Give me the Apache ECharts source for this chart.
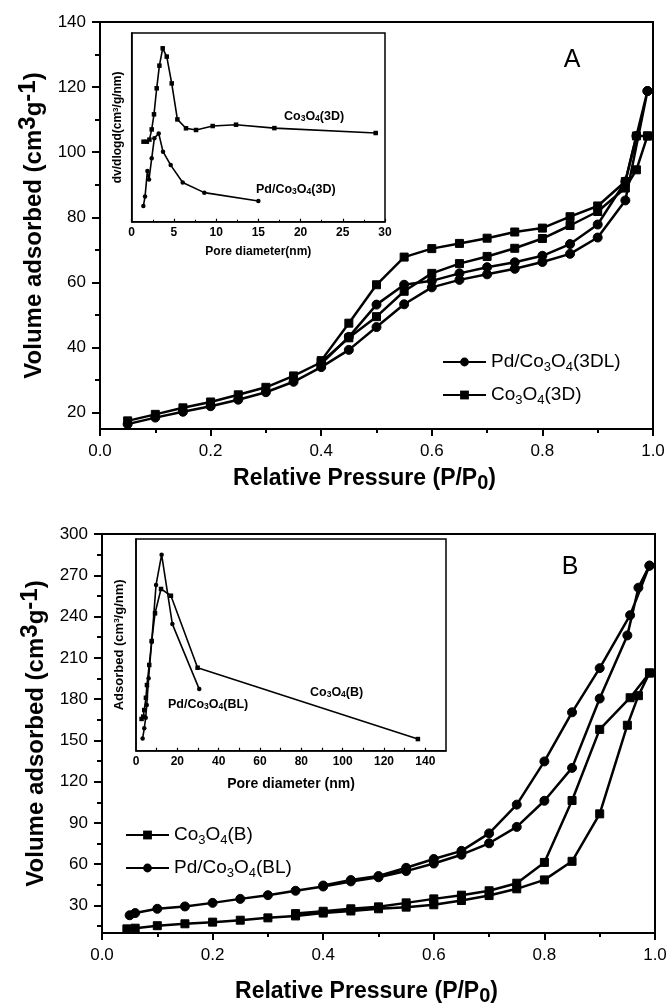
<!DOCTYPE html>
<html><head><meta charset="utf-8">
<script src="https://cdn.jsdelivr.net/npm/echarts@6/dist/echarts.min.js"></script>
<style>html,body{margin:0;padding:0;background:#fff}#c{width:672px;height:1007px}</style>
</head><body><div id="c"></div>
<script>
// ---------- Panel A: isotherms ----------
const pdA_ads_P = [0.05,0.1,0.15,0.2,0.25,0.3,0.35,0.4,0.45,0.5,0.55,0.6,0.65,0.7,0.75,0.8,0.85,0.9,0.95,0.99];
const pdA_ads_V = [16.5,18.5,20.3,22,24,26.3,29.5,34,39.3,46.3,53.3,58.5,60.8,62.5,64.2,66.3,68.8,73.8,85.2,118.8];
const pdA_des_P = [0.99,0.97,0.95,0.9,0.85,0.8,0.75,0.7,0.65,0.6,0.55,0.5,0.45,0.4];
const pdA_des_V = [118.8,105,91,77.8,71.8,68.2,66.2,64.7,62.8,60.5,59.3,53.2,43.3,35];
const coA_ads_P = [0.05,0.1,0.15,0.2,0.25,0.3,0.35,0.4,0.45,0.5,0.55,0.6,0.65,0.7,0.75,0.8,0.85,0.9,0.95,0.97,0.99];
const coA_ads_V = [17.5,19.5,21.5,23.3,25.5,27.8,31.3,35.5,43,49.5,57.3,62.8,65.8,68,70.5,73.5,77.5,81.8,89,94.6,105];
const coA_des_P = [0.99,0.97,0.95,0.9,0.85,0.8,0.75,0.7,0.65,0.6,0.55,0.5,0.45,0.4];
const coA_des_V = [105,105,91,83.5,80.2,76.7,75.5,73.6,72,70.4,67.8,59.3,47.5,36];

// ---------- Panel A inset: pore size distribution ----------
const inA_co_D = [1.4,1.8,2.1,2.37,2.64,2.96,3.28,3.67,4.15,4.74,5.41,6.43,7.62,9.59,12.36,16.9,28.9];
const inA_co_V = [42.4,42.4,43.5,48.9,56.9,70.7,82.7,91.9,87.5,73.3,54.2,49.5,48.6,50.7,51.4,49.6,47.0];
const inA_pd_D = [1.38,1.58,1.86,2.05,2.37,2.68,3.2,3.71,4.62,6.04,8.6,15.0];
const inA_pd_V = [8.3,13.3,26.9,22.4,33.6,44.2,46.8,37.1,30.0,20.8,15.4,11.0];

// ---------- Panel B: isotherms ----------
const pdB_ads_P = [0.05,0.06,0.1,0.15,0.2,0.25,0.3,0.35,0.4,0.45,0.5,0.55,0.6,0.65,0.7,0.75,0.8,0.85,0.9,0.95,0.97,0.99];
const pdB_ads_V = [22.9,24.5,27.6,29.3,31.9,34.8,37.5,40.7,43.8,47.5,50.5,55,60.5,66.9,75.2,87.1,106.1,130,180.4,226.3,261,277];
const pdB_des_P = [0.99,0.955,0.9,0.85,0.8,0.75,0.7,0.65,0.6,0.55,0.5,0.45,0.4];
const pdB_des_V = [277,241,202.5,170.4,134.7,103.3,82.4,69.7,63.8,57.4,51.4,48.5,44.5];
const coB_ads_P = [0.045,0.06,0.1,0.15,0.2,0.25,0.3,0.35,0.4,0.45,0.5,0.55,0.6,0.65,0.7,0.75,0.8,0.85,0.9,0.95,0.97,0.99];
const coB_ads_V = [13,13.5,15.3,16.7,17.9,19.3,21,22.4,24.5,26,27.6,28.8,30.5,33.6,37.2,42.1,48.6,62.1,96.6,161,182.5,199];
const coB_des_P = [0.99,0.955,0.9,0.85,0.8,0.75,0.7,0.65,0.6,0.55,0.5,0.45,0.4,0.35];
const coB_des_V = [199,181,158,106.3,61.3,46.2,40.7,37.5,34.8,31.9,29,27.6,25.8,24.1];

// ---------- Panel B inset ----------
const inB_co_D = [2.7,3.5,4.0,4.8,5.3,6.4,7.6,9.2,12.1,16.9,29.8,136.4];
const inB_co_V = [15.0,16.1,19.2,25.0,31.0,40.5,51.8,64.9,76.4,73.2,39.2,5.5];
const inB_pd_D = [3.2,4.0,4.7,5.2,6.1,7.6,9.7,12.4,17.6,30.6];
const inB_pd_V = [5.8,10.6,15.6,21.6,34.2,51.5,78.3,92.6,59.8,29.1];

// ---------- tick values ----------
const yTicksA = [20,40,60,80,100,120,140];
const yMinorA = [30,50,70,90,110,130];
const yTicksB = [30,60,90,120,150,180,210,240,270,300];
const yMinorB = [15,45,75,105,135,165,195,225,255,285];
const xTicksInB = [0,20,40,60,80,100,120,140];
const xTickMarksInB = [10,20,30,40,50,60,70,80,90,100,110,120,130,140];

const FONT = 'Liberation Sans, Arial, sans-serif';
const pts = (xs, ys) => xs.map((x, i) => [x, ys[i]]);
const K = '#000';

const nameMap = {
  'Pd/Co3O4(3DL)': 'Pd/Co{s|3}O{s|4}(3DL)',
  'Co3O4(3D)': 'Co{s|3}O{s|4}(3D)',
  'Co3O4(B)': 'Co{s|3}O{s|4}(B)',
  'Pd/Co3O4(BL)': 'Pd/Co{s|3}O{s|4}(BL)'
};

function mainX(grid, gap) {
  return {
    type: 'value', gridIndex: grid, min: 0, max: 1, interval: 0.2,
    name: '{a|Relative Pressure (P/P}{b|0}{a|)}', nameLocation: 'middle', nameGap: gap,
    nameTextStyle: { padding: [0, 24, 0, 0], rich: {
      a: { fontFamily: FONT, fontSize: 23, fontWeight: 'bold', color: K, lineHeight: 28 },
      b: { fontFamily: FONT, fontSize: 20, fontWeight: 'bold', color: K, lineHeight: 12, verticalAlign: 'bottom' } } },
    axisLine: { show: true, lineStyle: { color: K, width: 2 } },
    axisTick: { show: true, length: 7, lineStyle: { color: K, width: 2 } },
    minorTick: { show: true, splitNumber: 2, length: 4, lineStyle: { color: K, width: 2 } },
    axisLabel: { color: K, fontFamily: FONT, fontSize: 17, margin: 14, formatter: v => v.toFixed(1) },
    splitLine: { show: false }
  };
}
function mainY(grid, min, max, ticks) {
  return {
    type: 'value', gridIndex: grid, min: min, max: max, position: 'left',
    name: '{a|Volume adsorbed (cm}{s|3}{a|g}{s|-1}{a|)}', nameLocation: 'middle', nameGap: 40, nameRotate: 90,
    nameTextStyle: { rich: {
      a: { fontFamily: FONT, fontSize: 24, fontWeight: 'bold', color: K, lineHeight: 36 },
      s: { fontFamily: FONT, fontSize: 24, fontWeight: 'bold', color: K, lineHeight: 16, verticalAlign: 'top' } } },
    axisLine: { show: true, lineStyle: { color: K, width: 2 } },
    axisTick: { show: true, length: 8, customValues: ticks, lineStyle: { color: K, width: 2 } },
    axisLabel: { color: K, fontFamily: FONT, fontSize: 17, margin: 14, customValues: ticks },
    splitLine: { show: false }
  };
}
function minorY(grid, min, max, ticks) {
  return {
    type: 'value', gridIndex: grid, min: min, max: max, position: 'left',
    axisLine: { show: false }, axisLabel: { show: false }, splitLine: { show: false },
    axisTick: { show: true, length: 5, customValues: ticks, lineStyle: { color: K, width: 2 } }
  };
}
function insetX(grid, max, interval, name, fs, nfs, gap) {
  return {
    type: 'value', gridIndex: grid, min: 0, max: max, interval: interval,
    name: name, nameLocation: 'middle', nameGap: gap,
    nameTextStyle: { fontFamily: FONT, fontSize: nfs, fontWeight: 'bold', color: K },
    axisLine: { show: true, lineStyle: { color: K, width: 1.5 } },
    axisTick: { show: true, inside: true, length: 3, lineStyle: { color: K, width: 1.2 } },
    axisLabel: { color: K, fontFamily: FONT, fontSize: fs, fontWeight: 'bold', margin: 5 },
    splitLine: { show: false }
  };
}
function insetY(grid, name, nfs, gap) {
  return {
    type: 'value', gridIndex: grid, min: 0, max: 100,
    name: name, nameLocation: 'middle', nameGap: gap, nameRotate: 90,
    nameTextStyle: { fontFamily: FONT, fontSize: nfs, fontWeight: 'bold', color: K,
      rich: { s: { fontFamily: FONT, fontSize: 8, fontWeight: 'bold', color: K, lineHeight: 8, verticalAlign: 'top' } } },
    axisLine: { show: true, lineStyle: { color: K, width: 1.5 } },
    axisTick: { show: false }, axisLabel: { show: false }, splitLine: { show: false }
  };
}
function mainSeries(name, data, xi, yi, sym, size) {
  return { type: 'line', name: name, xAxisIndex: xi, yAxisIndex: yi, data: data,
    symbol: sym, symbolSize: size, showSymbol: true, animation: false,
    lineStyle: { color: K, width: 2.5 }, itemStyle: { color: K, borderColor: K } };
}
function insetSeries(name, data, xi, yi, sym) {
  return { type: 'line', name: name, xAxisIndex: xi, yAxisIndex: yi, data: data,
    symbol: sym, symbolSize: 4.5, animation: false, legendHoverLink: false,
    lineStyle: { color: K, width: 1.6 }, itemStyle: { color: K } };
}
function legend(names, left, top) {
  return {
    data: names, left: left, top: top, orient: 'vertical', itemWidth: 43, itemHeight: 11, itemGap: 9,
    selectedMode: false,
    formatter: n => nameMap[n] || n,
    textStyle: { fontFamily: FONT, fontSize: 19, color: K, lineHeight: 24,
      rich: { s: { fontFamily: FONT, fontSize: 13, color: K, lineHeight: 10, verticalAlign: 'bottom' } } }
  };
}
function label(text, x, y, fs) {
  return { type: 'text', x: x, y: y, z: 100, style: {
    text: text, fontFamily: FONT, fontSize: fs, fontWeight: 'bold', fill: K, align: 'left', verticalAlign: 'middle',
    rich: { s: { fontFamily: FONT, fontSize: 8.5, fontWeight: 'bold', fill: K, lineHeight: 8, verticalAlign: 'bottom' } } } };
}

const option = {
  backgroundColor: '#fff',
  animation: false,
  grid: [
    { left: 100, top: 22, width: 553, height: 407, show: true, borderColor: K, borderWidth: 2 },
    { left: 102, top: 534, width: 553, height: 408, show: true, borderColor: K, borderWidth: 2 },
    { left: 131.7, top: 33, width: 253.3, height: 188.7, show: true, borderColor: K, borderWidth: 1.5, backgroundColor: '#fff' },
    { left: 136, top: 539, width: 310, height: 211.7, show: true, borderColor: K, borderWidth: 1.5, backgroundColor: '#fff' }
  ],
  xAxis: [
    mainX(0, 36),
    mainX(1, 45),
    Object.assign(insetX(2, 30, 5, 'Pore diameter(nm)', 12, 12, 24), { minorTick: { show: true, splitNumber: 2, length: 2, lineStyle: { color: K } } }),
    Object.assign(insetX(3, 150, 10, 'Pore diameter (nm)', 12, 14, 26), {
      axisLabel: { color: K, fontFamily: FONT, fontSize: 12, fontWeight: 'bold', margin: 5, customValues: xTicksInB },
      axisTick: { show: true, inside: true, length: 3, customValues: xTickMarksInB, lineStyle: { color: K, width: 1.2 } } })
  ],
  yAxis: [
    mainY(0, 15, 140, yTicksA),
    minorY(0, 15, 140, yMinorA),
    mainY(1, 10, 300, yTicksB),
    minorY(1, 10, 300, yMinorB),
    insetY(2, 'dv/dlogd(cm{s|3}/g/nm)', 12, 8),
    insetY(3, 'Adsorbed (cm{s|3}/g/nm)', 13, 10)
  ],
  legend: [
    legend(['Pd/Co3O4(3DL)', 'Co3O4(3D)'], 437, 345),
    legend(['Co3O4(B)', 'Pd/Co3O4(BL)'], 120, 818)
  ],
  series: [
    mainSeries('Pd/Co3O4(3DL)', pts(pdA_ads_P, pdA_ads_V).concat(pts(pdA_des_P, pdA_des_V)), 0, 0, 'circle', 9),
    mainSeries('Co3O4(3D)', pts(coA_ads_P, coA_ads_V).concat(pts(coA_des_P, coA_des_V)), 0, 0, 'rect', 8),
    mainSeries('Co3O4(B)', pts(coB_ads_P, coB_ads_V).concat(pts(coB_des_P, coB_des_V)), 1, 2, 'rect', 8),
    mainSeries('Pd/Co3O4(BL)', pts(pdB_ads_P, pdB_ads_V).concat(pts(pdB_des_P, pdB_des_V)), 1, 2, 'circle', 9),
    insetSeries('inA_co', pts(inA_co_D, inA_co_V), 2, 4, 'rect'),
    insetSeries('inA_pd', pts(inA_pd_D, inA_pd_V), 2, 4, 'circle'),
    insetSeries('inB_co', pts(inB_co_D, inB_co_V), 3, 5, 'rect'),
    insetSeries('inB_pd', pts(inB_pd_D, inB_pd_V), 3, 5, 'circle')
  ],
  graphic: [
    { type: 'text', x: 572, y: 60, style: { text: 'A', fontFamily: FONT, fontSize: 25, fill: K, align: 'center', verticalAlign: 'middle' } },
    { type: 'text', x: 570, y: 567, style: { text: 'B', fontFamily: FONT, fontSize: 25, fill: K, align: 'center', verticalAlign: 'middle' } },
    label('Co{s|3}O{s|4}(3D)', 284, 117, 12.5),
    label('Pd/Co{s|3}O{s|4}(3D)', 256, 190, 12.5),
    label('Pd/Co{s|3}O{s|4}(BL)', 168, 705, 12.5),
    label('Co{s|3}O{s|4}(B)', 310, 693, 12.5)
  ]
};

const chart = echarts.init(document.getElementById('c'), null, { renderer: 'canvas' });
chart.setOption(option);
</script></body></html>
